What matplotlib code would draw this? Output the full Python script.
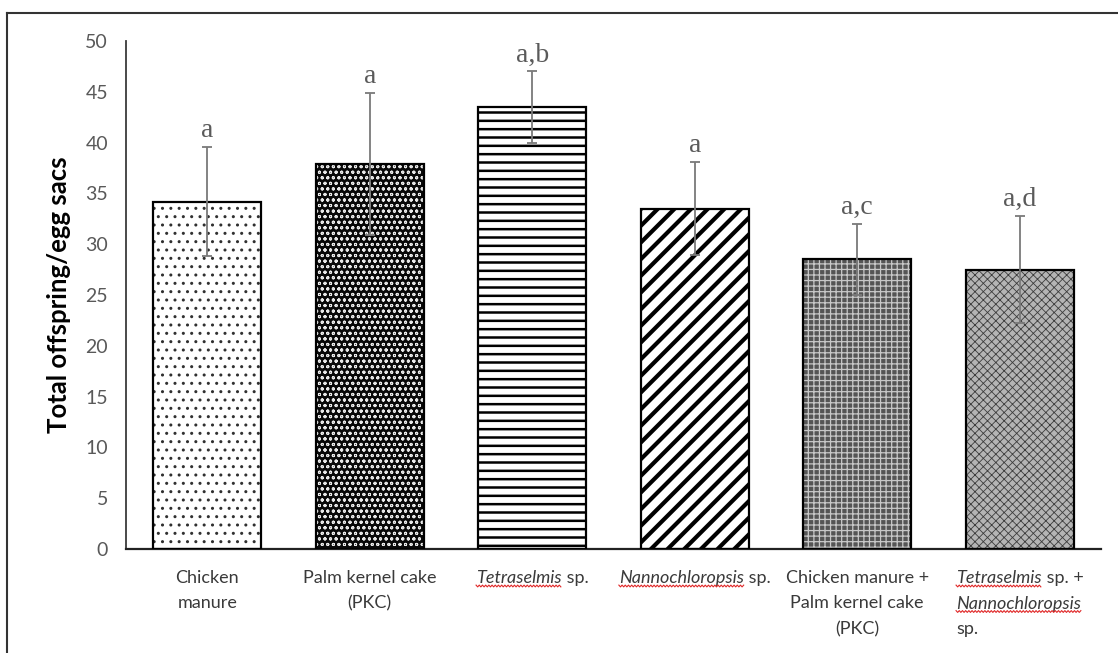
import numpy as np
import matplotlib
matplotlib.use("Agg")
import matplotlib.pyplot as plt
from matplotlib.lines import Line2D
from matplotlib.transforms import IdentityTransform
from matplotlib.font_manager import FontProperties

# Category labels: "\n" breaks a line, *...* marks an italic (species) name
categories = [
    "Chicken\nmanure",
    "Palm kernel cake\n(PKC)",
    "*Tetraselmis* sp.",
    "*Nannochloropsis* sp.",
    "Chicken manure +\nPalm kernel cake\n(PKC)",
    "*Tetraselmis* sp. +\n*Nannochloropsis*\nsp.",
]
label_align = ["center", "center", "center", "center", "center", "left"]
means = [34.2, 37.9, 43.5, 33.5, 28.5, 27.5]
errors = [5.4, 7.0, 3.5, 4.6, 3.5, 5.3]
letters = ["a", "a", "a,b", "a", "a,c", "a,d"]
y_ticks = [0, 5, 10, 15, 20, 25, 30, 35, 40, 45, 50]
y_label = "Total offspring/egg sacs"

# fill styles per bar: (face colour, hatch, hatch colour, hatch line width)
fills = [
    ("white", "..", "#303030", 1.0),
    ("#080808", "ooo", "#e8e8e8", 0.7),
    ("white", "--", "black", 1.8),
    ("white", "//", "black", 3.0),
    ("#555555", "+++", "#c8c8c8", 0.9),
    ("#b4b4b4", "xxxx", "#3c3c3c", 0.6),
]

W, H = 1118, 653
fig = plt.figure(figsize=(W / 100, H / 100), dpi=100)
ax = fig.add_axes([126 / W, (H - 549) / H, 975 / W, 508 / H])

x = np.arange(len(means))
bar_w = 0.665

for i, (fc, hatch, hc, hlw) in enumerate(fills):
    with plt.rc_context({"hatch.linewidth": hlw}):
        b = ax.bar(x[i], means[i], width=bar_w, color=fc, edgecolor=hc,
                   hatch=hatch, linewidth=0, zorder=2)
    for p in b:
        if hasattr(p, "set_hatch_linewidth"):
            p.set_hatch_linewidth(hlw)
ax.bar(x, means, width=bar_w, fill=False, edgecolor="black", linewidth=1.6, zorder=3)

ax.errorbar(x, means, yerr=errors, fmt="none", ecolor="#7a7a7a",
            elinewidth=1.3, capsize=3.5, capthick=1.3, zorder=5)

for i, (m, e, t) in enumerate(zip(means, errors, letters)):
    ax.annotate(t, xy=(x[i], m + e), xytext=(0, 10), textcoords="offset pixels",
                ha="center", va="baseline", fontsize=20,
                fontfamily="Liberation Serif", color="#5a5a5a")

ax.set_xlim(-0.5, len(means) - 0.5)
ax.set_ylim(0, 50)
ax.set_yticks(y_ticks)
ax.set_yticklabels([str(v) for v in y_ticks], fontfamily="Lato", fontsize=14,
                   color="#595959")
ax.set_xticks([])
ax.tick_params(axis="y", length=0, pad=13)
for s in ("top", "right"):
    ax.spines[s].set_visible(False)
ax.spines["left"].set_color("#3a3a3a")
ax.spines["left"].set_linewidth(1.3)
ax.spines["bottom"].set_color("#222222")
ax.spines["bottom"].set_linewidth(1.6)

ax.text(-0.0687, 0.5, y_label, transform=ax.transAxes, rotation=90,
        ha="center", va="center", fontfamily="Lato", fontweight="bold",
        fontsize=18.5, color="black")

# category labels, composed segment by segment so species names can be italic
renderer = fig.canvas.get_renderer()
reg_fp = FontProperties(family="Lato", size=13)
it_fp = FontProperties(family="Lato", style="italic", size=13)
axis_y = ax.transAxes.transform((0, 0))[1]
first_base = -34
line_gap = 25.5


def segments(line):
    parts = line.split("*")
    return [(p, k % 2 == 1) for k, p in enumerate(parts) if p]


def width_of(text, fp):
    t = fig.text(0, 0, text, fontproperties=fp)
    w = t.get_window_extent(renderer).width
    t.remove()
    return w


wavy = []
for i, label in enumerate(categories):
    lines = label.split("\n")
    line_segs = [segments(l) for l in lines]
    widths = [[width_of(s, it_fp if it else reg_fp) for s, it in segs]
              for segs in line_segs]
    block_w = max(sum(w) for w in widths)
    for k, (segs, ws) in enumerate(zip(line_segs, widths)):
        if label_align[i] == "left":
            dx = -block_w / 2
        else:
            dx = -sum(ws) / 2
        dy = first_base - k * line_gap
        for (s, it), w in zip(segs, ws):
            t = ax.annotate(s, xy=(x[i], 0), xycoords=("data", "axes fraction"),
                            xytext=(dx, dy), textcoords="offset pixels",
                            ha="left", va="baseline", color="#3a3a3a",
                            fontproperties=it_fp if it else reg_fp,
                            annotation_clip=False)
            if it:
                bb = t.get_window_extent(renderer)
                wavy.append((bb.x0, bb.x1, axis_y + dy - 3))
            dx += w

# spell-check style red squiggles beneath species names
for x0, x1, yb in wavy:
    xs = np.arange(x0, x1 + 0.1, 1.6)
    ys = yb + np.where(np.arange(len(xs)) % 2 == 0, 0.9, -0.9)
    fig.add_artist(Line2D(xs, ys, transform=IdentityTransform(),
                          color="#e02828", linewidth=0.8))

# outer frame (left and top edges)
fig.add_artist(Line2D([7 / W, 7 / W], [0, 1 - 13 / H], transform=fig.transFigure,
                      color="#333333", linewidth=1.5))
fig.add_artist(Line2D([7 / W, 1], [1 - 13 / H, 1 - 13 / H], transform=fig.transFigure,
                      color="#333333", linewidth=1.5))

fig.savefig("out.png", dpi=100)
